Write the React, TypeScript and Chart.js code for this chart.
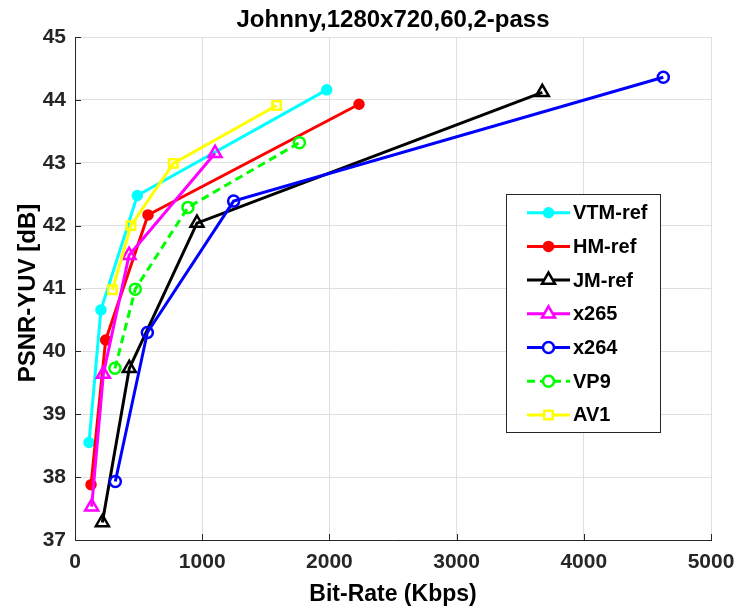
import React, { useEffect, useRef } from 'react';
import { Chart, registerables } from 'chart.js';
import { drawPoint } from 'chart.js/helpers';

Chart.register(...registerables);

const titleText = 'Johnny,1280x720,60,2-pass';
const xTitle = 'Bit-Rate (Kbps)';
const yTitle = 'PSNR-YUV [dB]';

const seriesNames = ['VTM-ref', 'HM-ref', 'JM-ref', 'x265', 'x264', 'VP9', 'AV1'];

const vtmRate = [110, 204, 490, 1979];
const vtmPsnr = [38.55, 40.66, 42.48, 44.16];
const hmRate = [126, 241, 574, 2233];
const hmPsnr = [37.88, 40.18, 42.17, 43.93];
const jmRate = [215, 427, 959, 3674];
const jmPsnr = [37.28, 39.73, 42.04, 44.12];
const x265Rate = [131, 223, 425, 1101];
const x265Psnr = [37.53, 39.64, 41.53, 43.15];
const x264Rate = [317, 569, 1247, 4625];
const x264Psnr = [37.93, 40.3, 42.39, 44.36];
const vp9Rate = [314, 474, 888, 1764];
const vp9Psnr = [39.73, 40.99, 42.29, 43.32];
const av1Rate = [294, 440, 773, 1585];
const av1Psnr = [40.98, 42.0, 42.99, 43.91];

const xTicks = [0, 1000, 2000, 3000, 4000, 5000];
const yTicks = [37, 38, 39, 40, 41, 42, 43, 44, 45];

const rates = [vtmRate, hmRate, jmRate, x265Rate, x264Rate, vp9Rate, av1Rate];
const psnrs = [vtmPsnr, hmPsnr, jmPsnr, x265Psnr, x264Psnr, vp9Psnr, av1Psnr];

const colors = ['#00ffff', '#ff0000', '#000000', '#ff00ff', '#0000ff', '#00ff00', '#ffff00'];
const markers = ['circle', 'circle', 'triangle', 'triangle', 'circle', 'circle', 'rect'];
const filled = [true, true, false, false, false, false, false];
const radii = [4.5, 4.5, 7.5, 7.5, 5.5, 5.5, 6];
const dashes: number[][] = [[], [], [], [], [], [8, 5], []];

const FONT = '"Liberation Sans", Arial, Helvetica, sans-serif';

const overlay = {
  id: 'overlay',
  afterDraw(chart: any) {
    const ctx = chart.ctx as CanvasRenderingContext2D;
    const { left, right, top, bottom } = chart.chartArea;
    const xs = chart.scales.x;
    const ys = chart.scales.y;
    ctx.save();
    // inward tick marks
    ctx.strokeStyle = '#262626';
    ctx.lineWidth = 1;
    xTicks.forEach((v) => {
      const px = Math.round(xs.getPixelForValue(v)) + 0.5;
      ctx.beginPath();
      ctx.moveTo(px, bottom);
      ctx.lineTo(px, bottom - 6);
      ctx.stroke();
    });
    yTicks.forEach((v) => {
      const py = Math.round(ys.getPixelForValue(v)) + 0.5;
      ctx.beginPath();
      ctx.moveTo(left, py);
      ctx.lineTo(left + 6, py);
      ctx.stroke();
    });

    // title
    ctx.fillStyle = '#000';
    ctx.textAlign = 'center';
    ctx.textBaseline = 'alphabetic';
    ctx.font = `bold 24px ${FONT}`;
    ctx.fillText(titleText, (left + right) / 2, 27);
    // x title
    ctx.font = `bold 23px ${FONT}`;
    ctx.fillText(xTitle, (left + right) / 2, 601);
    // y title
    ctx.save();
    ctx.translate(35, 293);
    ctx.rotate(-Math.PI / 2);
    ctx.font = `bold 24px ${FONT}`;
    ctx.fillText(yTitle, 0, 0);
    ctx.restore();

    // legend
    const bx = 506.5, by = 194.5, bw = 154, bh = 238;
    ctx.fillStyle = '#ffffff';
    ctx.fillRect(bx, by, bw, bh);
    ctx.strokeStyle = '#262626';
    ctx.lineWidth = 1;
    ctx.strokeRect(bx, by, bw, bh);
    ctx.font = `bold 20px ${FONT}`;
    ctx.textAlign = 'left';
    ctx.textBaseline = 'middle';
    seriesNames.forEach((name, i) => {
      const cy = 212.7 + i * 33.7;
      ctx.save();
      ctx.strokeStyle = colors[i];
      ctx.lineWidth = 3;
      ctx.setLineDash(dashes[i]);
      ctx.beginPath();
      ctx.moveTo(527, cy);
      ctx.lineTo(570, cy);
      ctx.stroke();
      ctx.setLineDash([]);
      ctx.strokeStyle = colors[i];
      ctx.fillStyle = filled[i] ? colors[i] : '#ffffff';
      ctx.lineWidth = 2.5;
      drawPoint(ctx, { pointStyle: markers[i] as any, radius: radii[i], rotation: 0, borderWidth: 2.5 }, 548.5, cy);
      ctx.restore();
      ctx.fillStyle = '#000';
      ctx.fillText(name, 573, cy + 1);
    });
    ctx.restore();
  },
};

export default function App() {
  const ref = useRef<HTMLCanvasElement>(null);
  useEffect(() => {
    document.body.style.margin = '0';
    const canvas = ref.current!;
    const datasets = seriesNames.map((name, i) => ({
      label: name,
      data: rates[i].map((r, j) => ({ x: r, y: psnrs[i][j] })),
      borderColor: colors[i],
      backgroundColor: filled[i] ? colors[i] : 'rgba(0,0,0,0)',
      pointBackgroundColor: filled[i] ? colors[i] : 'rgba(0,0,0,0)',
      pointBorderColor: colors[i],
      pointStyle: markers[i],
      pointRadius: radii[i],
      pointBorderWidth: 2.5,
      borderWidth: 3,
      borderDash: dashes[i],
      tension: 0,
      fill: false,
      order: 7 - i,
    }));
    const chart = new Chart(canvas, {
      type: 'line',
      data: { datasets },
      plugins: [overlay],
      options: {
        animation: false,
        responsive: false,
        events: [],
        layout: { padding: { top: 37, right: 25, left: 0, bottom: 0 } },
        plugins: { legend: { display: false }, tooltip: { enabled: false }, title: { display: false } },
        scales: {
          x: {
            type: 'linear',
            min: 0,
            max: 5000,
            afterBuildTicks: (s: any) => { s.ticks = xTicks.map((v) => ({ value: v })); },
            afterFit: (s: any) => { s.height = 67; s.paddingLeft = 0; s.paddingRight = 0; },
            grid: { color: '#dfdfdf', lineWidth: 1, drawTicks: false },
            border: { display: true, color: '#262626', width: 1 },
            ticks: {
              padding: 10,
              color: '#262626',
              font: { family: FONT, size: 21, weight: 'bold' },
              maxRotation: 0,
              callback: (v: any) => String(v),
            },
          },
          y: {
            type: 'linear',
            min: 37,
            max: 45,
            afterBuildTicks: (s: any) => { s.ticks = yTicks.map((v) => ({ value: v })); },
            afterFit: (s: any) => { s.width = 75; s.paddingTop = 0; s.paddingBottom = 0; },
            grid: { color: '#dfdfdf', lineWidth: 1, drawTicks: false },
            border: { display: true, color: '#262626', width: 1 },
            ticks: {
              padding: 9,
              color: '#262626',
              font: { family: FONT, size: 21, weight: 'bold' },
              callback: (v: any) => String(v),
            },
          },
        },
      } as any,
    });
    return () => chart.destroy();
  }, []);
  return (
    <div style={{ width: 736, height: 607 }}>
      <canvas ref={ref} width={736} height={607} style={{ display: 'block' }} />
    </div>
  );
}
